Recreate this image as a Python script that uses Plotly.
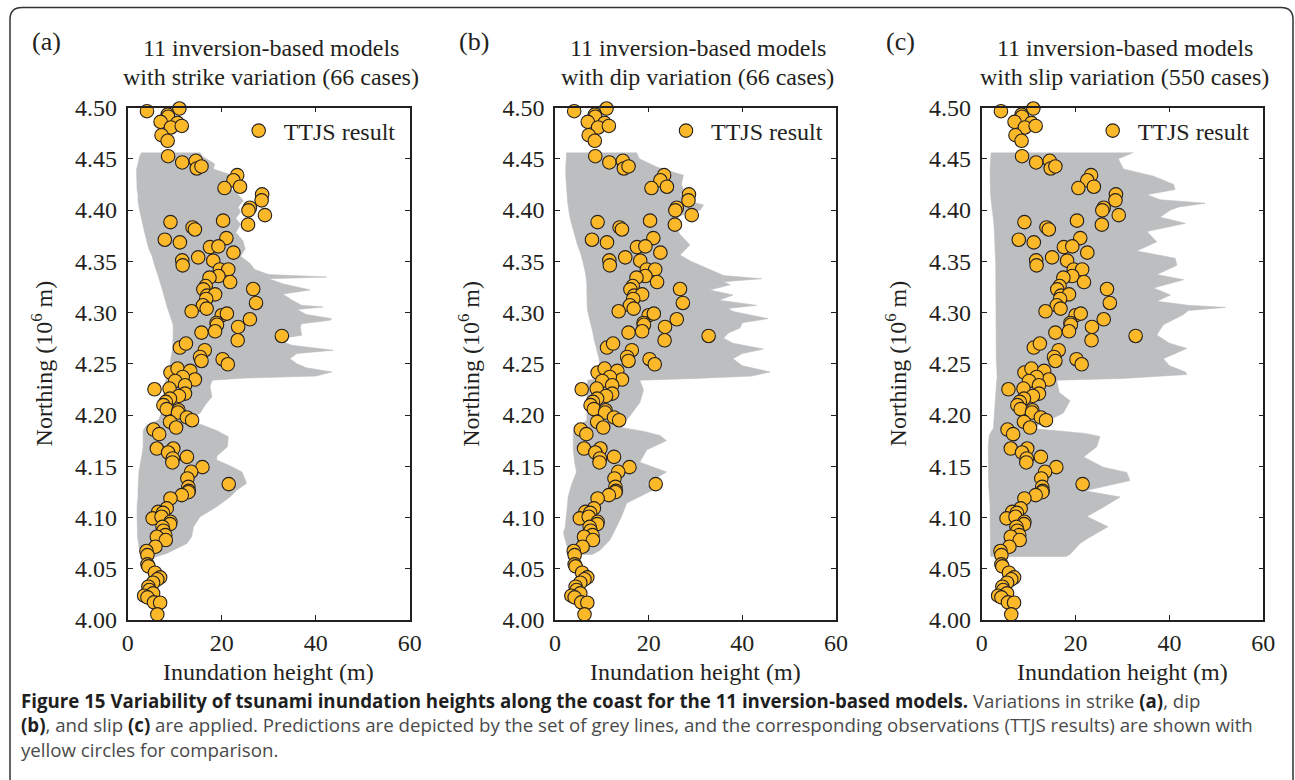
"""
Tsunami inundation height variability along the coast (Figure 15 recreation)
"""

import plotly.graph_objects as go

W, H = 1295, 780

# TTJS observed inundation heights (m) and northing (10^6 m), same in all panels
obs_height = [
    4.1, 11.0, 8.5, 8.6, 7.0, 10.6, 9.2, 11.5, 7.2, 8.5,
    8.6, 11.6, 14.5, 14.7, 15.7, 23.3, 22.5, 23.9, 20.6, 28.6,
    28.5, 26.0, 25.7, 29.2, 25.6, 9.1, 20.3, 13.8, 14.3, 7.9,
    11.1, 21.0, 17.5, 19.3, 22.5, 11.6, 11.7, 15.0, 18.2, 19.6,
    21.4, 19.3, 17.4, 21.8, 16.6, 16.1, 26.7, 16.9, 18.6, 16.7,
    16.0, 16.8, 27.3, 13.6, 20.0, 21.1, 26.0, 18.9, 19.0, 23.5,
    15.7, 18.6, 23.4, 32.8, 11.1, 12.4, 16.4, 15.4, 15.7, 20.2,
    21.3, 9.1, 10.6, 13.3, 14.3, 11.7, 10.1, 12.2, 5.7, 8.9,
    12.2, 10.9, 9.0, 8.1, 7.6, 8.3, 10.8, 10.7, 12.6, 13.7,
    9.0, 10.3, 5.5, 6.7, 6.2, 9.7, 8.6, 12.6, 9.6, 9.5,
    15.9, 13.5, 12.7, 21.5, 12.9, 13.0, 12.9, 11.5, 9.1, 8.3,
    6.5, 7.5, 5.3, 7.2, 9.1, 9.0, 7.4, 7.6, 8.0, 6.2,
    8.1, 5.9, 4.0, 4.2, 4.2, 4.4, 5.8, 6.9, 6.3, 5.4,
    4.4, 4.6, 5.4, 3.5, 4.2, 5.6, 6.9, 6.3,
]
obs_northing = [
    4.4964, 4.4990, 4.4930, 4.4910, 4.4860, 4.4850, 4.4805, 4.4820, 4.4730, 4.4675,
    4.4525, 4.4464, 4.4480, 4.4405, 4.4425, 4.4340, 4.4290, 4.4227, 4.4214, 4.4152,
    4.4094, 4.4022, 4.3996, 4.3950, 4.3857, 4.3882, 4.3896, 4.3830, 4.3810, 4.3710,
    4.3684, 4.3726, 4.3638, 4.3645, 4.3584, 4.3509, 4.3460, 4.3538, 4.3506, 4.3420,
    4.3420, 4.3356, 4.3340, 4.3297, 4.3258, 4.3226, 4.3229, 4.3165, 4.3177, 4.3132,
    4.3070, 4.3038, 4.3093, 4.3012, 4.2973, 4.2989, 4.2934, 4.2898, 4.2880, 4.2859,
    4.2804, 4.2817, 4.2729, 4.2771, 4.2658, 4.2697, 4.2632, 4.2566, 4.2527, 4.2544,
    4.2495, 4.2414, 4.2453, 4.2430, 4.2346, 4.2371, 4.2332, 4.2290, 4.2251, 4.2258,
    4.2209, 4.2186, 4.2160, 4.2128, 4.2096, 4.2057, 4.2047, 4.2024, 4.1976, 4.1949,
    4.1933, 4.1878, 4.1858, 4.1813, 4.1673, 4.1673, 4.1634, 4.1591, 4.1576, 4.1537,
    4.1491, 4.1446, 4.1381, 4.1326, 4.1299, 4.1260, 4.1247, 4.1218, 4.1186, 4.1089,
    4.1055, 4.1045, 4.0991, 4.1007, 4.0958, 4.0935, 4.0909, 4.0871, 4.0828, 4.0812,
    4.0780, 4.0715, 4.0673, 4.0633, 4.0543, 4.0523, 4.0461, 4.0416, 4.0397, 4.0364,
    4.0325, 4.0292, 4.0260, 4.0237, 4.0221, 4.0172, 4.0169, 4.0055,
]

# Envelope of the grey prediction lines: northing, lowest and highest height
strike_northing = [
    4.456, 4.452, 4.445, 4.440, 4.435, 4.430, 4.425, 4.420, 4.415, 4.409,
    4.403, 4.398, 4.392, 4.386, 4.378, 4.370, 4.362, 4.355, 4.348, 4.342,
    4.337, 4.3346, 4.333, 4.328, 4.322, 4.318, 4.312, 4.307, 4.3054, 4.303,
    4.298, 4.294, 4.2924, 4.289, 4.2859, 4.2778, 4.275, 4.2729, 4.268, 4.2632,
    4.260, 4.255, 4.250, 4.246, 4.242, 4.238, 4.236, 4.234, 4.228, 4.2176,
    4.210, 4.2017, 4.195, 4.190, 4.185, 4.1787, 4.169, 4.160, 4.156, 4.150,
    4.1445, 4.1333, 4.1267, 4.1202, 4.1104, 4.1007, 4.091, 4.0812, 4.0747, 4.065,
    4.0617,
]
strike_low = [
    3.0, 2.5, 2.2, 1.9, 1.9, 1.9, 1.9, 2.0, 2.2, 2.2,
    2.4, 2.6, 3.0, 3.2, 3.6, 4.0, 4.5, 5.2, 5.6, 6.0,
    6.4, 6.6, 6.7, 7.0, 7.4, 7.6, 8.0, 8.3, 8.4, 8.6,
    9.0, 9.3, 9.4, 9.6, 9.7, 9.7, 9.7, 9.7, 9.6, 9.5,
    9.4, 9.2, 9.0, 8.8, 8.6, 8.4, 8.3, 8.2, 7.8, 7.5,
    7.4, 7.2, 6.5, 4.0, 3.3, 3.3, 3.3, 3.0, 2.8, 2.6,
    2.4, 2.2, 2.2, 2.2, 2.0, 2.0, 2.0, 2.1, 2.3, 2.6,
    3.0,
]
strike_high = [
    15.4, 16.0, 18.5, 18.2, 21.5, 22.5, 23.0, 22.0, 23.5, 24.6,
    23.5, 24.0, 23.0, 24.0, 23.0, 24.5, 25.0, 24.0, 26.0, 27.0,
    30.0, 42.3, 30.0, 33.0, 38.8, 33.0, 35.0, 37.0, 41.6, 36.0,
    38.0, 43.4, 43.0, 37.0, 36.7, 37.0, 33.0, 32.0, 35.0, 43.7,
    36.0, 34.5, 36.0, 38.0, 43.4, 40.0, 25.0, 18.0, 17.5, 17.9,
    16.5, 15.4, 12.5, 16.0, 18.9, 21.4, 21.2, 19.0, 18.9, 22.0,
    24.3, 25.3, 23.2, 21.8, 18.9, 15.4, 14.0, 13.6, 12.6, 8.3,
    6.0,
]

dip_northing = [
    4.456, 4.450, 4.442, 4.434, 4.425, 4.420, 4.415, 4.408, 4.405, 4.400,
    4.395, 4.389, 4.382, 4.376, 4.366, 4.356, 4.350, 4.343, 4.336, 4.333,
    4.330, 4.327, 4.322, 4.317, 4.312, 4.307, 4.304, 4.301, 4.294, 4.290,
    4.285, 4.280, 4.275, 4.270, 4.2643, 4.260, 4.255, 4.248, 4.242, 4.238,
    4.2357, 4.234, 4.2244, 4.212, 4.208, 4.195, 4.189, 4.184, 4.180, 4.175,
    4.166, 4.154, 4.1444, 4.133, 4.127, 4.120, 4.114, 4.101, 4.091, 4.085,
    4.078, 4.068, 4.064,
]
dip_low = [
    2.5, 2.4, 2.3, 2.3, 2.4, 2.5, 2.6, 2.7, 2.8, 2.9,
    3.1, 3.4, 3.8, 4.2, 4.8, 5.6, 6.0, 6.3, 6.6, 6.7,
    6.8, 6.8, 6.8, 6.8, 6.8, 6.8, 6.9, 7.0, 7.4, 7.6,
    7.9, 8.1, 8.3, 8.6, 9.0, 9.2, 9.4, 9.6, 9.6, 9.6,
    9.4, 7.0, 6.8, 6.8, 6.8, 6.8, 5.0, 3.9, 3.9, 3.9,
    3.9, 4.2, 4.6, 3.6, 3.3, 2.8, 2.7, 2.5, 2.2, 1.8,
    2.2, 2.8, 3.5,
]
dip_high = [
    17.4, 18.0, 21.7, 27.4, 27.0, 27.4, 26.7, 29.0, 31.7, 31.0,
    27.0, 25.0, 26.0, 26.7, 28.8, 26.7, 29.0, 32.4, 36.0, 44.1,
    36.0, 37.4, 33.0, 38.0, 35.0, 43.0, 37.0, 38.0, 45.5, 40.0,
    39.5, 37.0, 36.0, 38.0, 44.5, 40.0, 38.0, 40.0, 45.9, 42.0,
    30.0, 18.1, 18.9, 18.1, 17.4, 15.3, 12.5, 19.0, 22.4, 23.8,
    19.6, 18.1, 23.8, 19.6, 21.0, 18.1, 15.3, 14.2, 13.2, 12.5,
    11.7, 9.6, 8.0,
]

slip_northing = [
    4.456, 4.450, 4.440, 4.433, 4.425, 4.420, 4.415, 4.410, 4.4066, 4.403,
    4.400, 4.393, 4.387, 4.379, 4.369, 4.360, 4.353, 4.346, 4.337, 4.332,
    4.324, 4.317, 4.311, 4.307, 4.305, 4.302, 4.298, 4.288, 4.278, 4.270,
    4.265, 4.255, 4.248, 4.242, 4.2395, 4.2357, 4.234, 4.222, 4.214, 4.202,
    4.192, 4.187, 4.182, 4.179, 4.169, 4.159, 4.149, 4.144, 4.136, 4.130,
    4.126, 4.120, 4.110, 4.101, 4.091, 4.081, 4.075, 4.064, 4.062,
]
slip_low = [
    2.0, 1.9, 1.8, 1.8, 1.8, 1.8, 1.9, 2.0, 2.1, 2.2,
    2.3, 2.5, 2.6, 2.7, 2.8, 2.9, 3.0, 3.0, 3.0, 3.0,
    3.1, 3.1, 3.1, 3.1, 3.1, 3.1, 3.1, 3.0, 3.0, 3.0,
    3.0, 3.1, 3.2, 3.3, 3.3, 3.3, 3.2, 3.0, 3.0, 2.8,
    2.6, 2.5, 1.8, 1.6, 1.4, 1.4, 1.4, 1.4, 1.4, 1.5,
    1.6, 1.7, 1.8, 1.8, 1.8, 1.8, 1.8, 1.8, 1.9,
]
slip_high = [
    32.3, 29.1, 30.2, 36.6, 40.9, 41.2, 35.2, 38.0, 47.6, 42.0,
    40.2, 38.0, 43.4, 35.2, 37.3, 33.0, 41.2, 41.6, 37.3, 43.0,
    36.6, 40.2, 37.3, 44.0, 51.9, 44.0, 43.0, 38.7, 37.3, 40.0,
    43.7, 38.7, 40.0, 43.4, 43.7, 30.0, 16.0, 16.5, 18.8, 17.4,
    13.1, 10.3, 22.0, 25.2, 24.5, 21.7, 25.9, 30.9, 31.6, 25.9,
    22.0, 29.5, 25.9, 22.4, 26.9, 23.1, 21.0, 18.8, 18.0,
]

panel_labels = ["(a)", "(b)", "(c)"]
panel_titles = [
    ("11 inversion-based models", "with strike variation (66 cases)"),
    ("11 inversion-based models", "with dip variation (66 cases)"),
    ("11 inversion-based models", "with slip variation (550 cases)"),
]
x_ticks = [0, 20, 40, 60]
y_ticks = [4.00, 4.05, 4.10, 4.15, 4.20, 4.25, 4.30, 4.35, 4.40, 4.45, 4.50]

bands = [
    (strike_northing, strike_low, strike_high),
    (dip_northing, dip_low, dip_high),
    (slip_northing, slip_low, slip_high),
]

# Plot-area pixel boxes (left, right) and shared top/bottom
panel_px = [(127.7, 409.7), (555.0, 836.0), (981.7, 1263.3)]
top_px, bottom_px = 107.5, 620.0

INK = "#231f20"
GREY = "#bcbec0"
YELLOW = "#fbb829"
SERIF = "Liberation Serif"


def fx(px):
    return px / W


def fy(py):
    return 1 - py / H


def note(text, px, py, size=24, **kw):
    """Paper-anchored annotation centred on a pixel position"""
    d = dict(text=text, x=fx(px), y=fy(py), xref="paper", yref="paper",
             xanchor="center", yanchor="middle", showarrow=False,
             font=dict(family=SERIF, size=size, color=INK))
    d.update(kw)
    return d


fig = go.Figure()
annotations = []

for i, ((north, low, high), (left, right)) in enumerate(zip(bands, panel_px)):
    sfx = "" if i == 0 else str(i + 1)
    xa, ya = "x" + sfx, "y" + sfx

    # grey prediction envelope
    fig.add_trace(go.Scatter(
        x=low + high[::-1],
        y=north + north[::-1],
        xaxis=xa, yaxis=ya,
        fill="toself",
        fillcolor=GREY,
        line=dict(width=0.6, color=GREY),
        mode="lines",
        hoverinfo="skip",
        showlegend=False,
    ))

    # observations
    fig.add_trace(go.Scatter(
        x=obs_height,
        y=obs_northing,
        xaxis=xa, yaxis=ya,
        mode="markers",
        name="TTJS result",
        marker=dict(size=13.5, color=YELLOW, line=dict(width=1.1, color=INK)),
        cliponaxis=False,
        legend="legend" + sfx,
    ))

    axis_style = dict(
        showline=True, linecolor=INK, linewidth=1.6, mirror="ticks",
        ticks="inside", ticklen=5, tickwidth=1.2, tickcolor=INK,
        showgrid=False, zeroline=False, automargin=False,
        tickfont=dict(family=SERIF, size=24, color=INK),
    )
    fig.layout["xaxis" + sfx] = dict(
        axis_style, domain=[fx(left), fx(right)], range=[0, 60],
        tickvals=x_ticks, anchor=ya,
    )
    fig.layout["yaxis" + sfx] = dict(
        axis_style, domain=[fy(bottom_px), fy(top_px)], range=[4.0, 4.5],
        tickvals=y_ticks, tickformat=".2f", anchor=xa, ticklabelstandoff=4,
    )

    fig.layout["legend" + sfx] = dict(
        x=fx(left + 106), y=fy(131), xanchor="left", yanchor="middle",
        bgcolor="rgba(0,0,0,0)", borderwidth=0, itemwidth=40,
        font=dict(family=SERIF, size=24, color=INK),
    )

    mid = (left + right) / 2
    annotations += [
        note(panel_titles[i][0], mid + 2, 48),
        note(panel_titles[i][1], mid + 2, 77),
        note(panel_labels[i], left - 81, 41, size=26),
        note("Northing (10<sup>6</sup> m)", left - 86, (top_px + bottom_px) / 2, textangle=-90),
        note("Inundation height (m)", mid, 672),
    ]

# Caption: bold parts darker than the running text
BOLD = '<b><span style="color:#1f1f1f">{}</span></b>'
cap_font = dict(family="Open Sans", size=18.7, color="#4a4a4a")
caption_lines = [
    BOLD.format("Figure 15 Variability of tsunami inundation heights along the coast for the 11 "
                "inversion-based models.")
    + " Variations in strike " + BOLD.format("(a)") + ", dip",
    BOLD.format("(b)") + ", and slip " + BOLD.format("(c)")
    + " are applied. Predictions are depicted by the set of grey lines, and the corresponding "
    "observations (TTJS results) are shown with",
    "yellow circles for comparison.",
]
for k, line in enumerate(caption_lines):
    annotations.append(dict(
        text=line, x=fx(19), y=fy(700 + 24.5 * k), xref="paper", yref="paper",
        xanchor="left", yanchor="middle", showarrow=False, font=cap_font,
    ))

# Rounded frame, open at the bottom edge of the page
frame = "M {l},{b} L {l},{t1} Q {l},{t0} {l1},{t0} L {r1},{t0} Q {r},{t0} {r},{t1} L {r},{b}".format(
    l=fx(10), l1=fx(22), r=fx(1293), r1=fx(1281),
    t0=fy(7.5), t1=fy(19.5), b=fy(800),
)

fig.update_layout(
    width=W, height=H,
    margin=dict(l=0, r=0, t=0, b=0, autoexpand=False),
    paper_bgcolor="white",
    plot_bgcolor="white",
    annotations=annotations,
    shapes=[dict(type="path", path=frame, xref="paper", yref="paper",
                 line=dict(color="#333333", width=1.5))],
)

# page body margin would otherwise offset the figure by 8 px
fig.write_html(
    "out.html",
    config={"displayModeBar": False},
    post_script="document.body.style.margin = '0';",
)
